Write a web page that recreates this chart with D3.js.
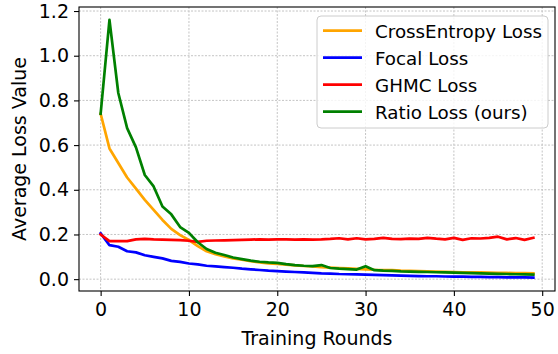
<!DOCTYPE html>
<html>
<head>
<meta charset="utf-8">
<script src="https://cdn.jsdelivr.net/npm/d3@7"></script>
<style>
  body { margin: 0; background: #fff; }
  svg { display: block; font-family: "DejaVu Sans", sans-serif; }
</style>
</head>
<body>
<div id="chart"></div>
<script>
// loss curves, one value per training round (0..49)
var crossEntropy = [0.74, 0.585, 0.52, 0.455, 0.405, 0.355, 0.31, 0.265, 0.225, 0.197,
  0.175, 0.148, 0.125, 0.112, 0.102, 0.093, 0.087, 0.08, 0.075, 0.071,
  0.068, 0.065, 0.062, 0.059, 0.057, 0.054, 0.052, 0.05, 0.048, 0.046,
  0.044, 0.042, 0.041, 0.04, 0.038, 0.037, 0.036, 0.035, 0.034, 0.033,
  0.032, 0.031, 0.03, 0.03, 0.029, 0.028, 0.028, 0.027, 0.027, 0.026];
var focal = [0.205, 0.152, 0.145, 0.125, 0.12, 0.107, 0.1, 0.093, 0.082, 0.077,
  0.07, 0.066, 0.06, 0.057, 0.054, 0.051, 0.047, 0.044, 0.041, 0.038,
  0.036, 0.034, 0.032, 0.03, 0.028, 0.026, 0.025, 0.023, 0.022, 0.021,
  0.02, 0.019, 0.018, 0.017, 0.016, 0.015, 0.014, 0.013, 0.013, 0.012,
  0.011, 0.011, 0.01, 0.01, 0.009, 0.009, 0.008, 0.008, 0.008, 0.007];
var ghmc = [0.2, 0.17, 0.17, 0.17, 0.178, 0.18, 0.178, 0.177, 0.176, 0.175,
  0.172, 0.167, 0.172, 0.173, 0.174, 0.175, 0.176, 0.177, 0.178, 0.177,
  0.178, 0.178, 0.177, 0.178, 0.177, 0.178, 0.18, 0.183, 0.178, 0.183,
  0.178, 0.18, 0.185, 0.18, 0.179, 0.181, 0.18, 0.185, 0.181, 0.178,
  0.185, 0.176, 0.183, 0.182, 0.185, 0.19, 0.178, 0.184, 0.176, 0.185];
var ratio = [0.74, 1.16, 0.833, 0.676, 0.59, 0.466, 0.415, 0.325, 0.29, 0.233,
  0.207, 0.165, 0.135, 0.118, 0.108, 0.097, 0.09, 0.083, 0.078, 0.075,
  0.073, 0.067, 0.063, 0.06, 0.058, 0.063, 0.05, 0.047, 0.045, 0.043,
  0.058, 0.04, 0.038, 0.037, 0.035, 0.034, 0.033, 0.032, 0.031, 0.03,
  0.029, 0.028, 0.027, 0.026, 0.025, 0.024, 0.023, 0.022, 0.021, 0.02];

var seriesNames = ["CrossEntropy Loss", "Focal Loss", "GHMC Loss", "Ratio Loss (ours)"];
var seriesColors = ["#ffa500", "#0000ff", "#ff0000", "#008000"];
var xTicks = [0, 10, 20, 30, 40, 50];
var yTicks = [0.0, 0.2, 0.4, 0.6, 0.8, 1.0, 1.2];

var margin = {top: 7, right: 3, bottom: 63, left: 79};
var width = 558 - margin.left - margin.right;
var height = 354 - margin.top - margin.bottom;

var svg = d3.select("#chart").append("svg")
  .attr("width", 558).attr("height", 354)
  .append("g")
  .attr("transform", "translate(" + margin.left + "," + margin.top + ")");

var x = d3.scaleLinear().domain([-2.45, 51.45]).range([0, width]);
var y = d3.scaleLinear().domain([-0.053, 1.218]).range([height, 0]);

// grid
svg.append("g").selectAll("line").data(xTicks).enter().append("line")
  .attr("x1", d => x(d)).attr("x2", d => x(d))
  .attr("y1", 0).attr("y2", height)
  .style("stroke", "#c4c4c4").style("stroke-width", 1).style("stroke-dasharray", "2,1.5");
svg.append("g").selectAll("line").data(yTicks).enter().append("line")
  .attr("x1", 0).attr("x2", width)
  .attr("y1", d => y(d)).attr("y2", d => y(d))
  .style("stroke", "#c4c4c4").style("stroke-width", 1).style("stroke-dasharray", "2,1.5");

// lines
var all = [crossEntropy, focal, ghmc, ratio];
var line = d3.line().x((d, i) => x(i)).y(d => y(d));
all.forEach(function(s, k) {
  svg.append("path").datum(s)
    .attr("d", line)
    .style("fill", "none")
    .style("stroke", seriesColors[k])
    .style("stroke-width", 2.7)
    .style("stroke-linejoin", "round")
    .style("stroke-linecap", "square");
});

// axes
var xAxis = svg.append("g").attr("transform", "translate(0," + height + ")")
  .call(d3.axisBottom(x).tickValues(xTicks).tickSize(5).tickPadding(7).tickFormat(d3.format("d")));
var yAxis = svg.append("g")
  .call(d3.axisLeft(y).tickValues(yTicks).tickSize(5).tickPadding(5).tickFormat(d3.format(".1f")));
[xAxis, yAxis].forEach(function(a) {
  a.select(".domain").remove();
  a.selectAll("text").style("font-size", "19px").style("fill", "#000")
    .style("font-family", "'DejaVu Sans', sans-serif");
  a.selectAll("line").style("stroke", "#000").style("stroke-width", 1.1);
});

svg.append("rect")
  .attr("width", width).attr("height", height)
  .style("fill", "none").style("stroke", "#000").style("stroke-width", 1.1);

// axis labels
svg.append("text")
  .attr("x", width / 2).attr("y", height + 53.5)
  .attr("text-anchor", "middle")
  .style("font-size", "19px")
  .text("Training Rounds");
svg.append("text")
  .attr("transform", "rotate(-90)")
  .attr("x", -height / 2).attr("y", -53)
  .attr("text-anchor", "middle")
  .style("font-size", "19px")
  .text("Average Loss Value");

// legend
var legend = svg.append("g").attr("transform", "translate(" + (317 - margin.left) + "," + (16 - margin.top) + ")");
legend.append("rect")
  .attr("width", 231).attr("height", 112).attr("rx", 4)
  .style("fill", "#fff").style("fill-opacity", 0.8)
  .style("stroke", "#cccccc").style("stroke-width", 1);
seriesNames.forEach(function(name, k) {
  var cy = 14.7 + k * 27;
  legend.append("line")
    .attr("x1", 6).attr("x2", 45).attr("y1", cy).attr("y2", cy)
    .style("stroke", seriesColors[k]).style("stroke-width", 2.7);
  legend.append("text")
    .attr("x", 58).attr("y", cy).attr("dy", "0.4em")
    .style("font-size", "18.3px")
    .text(name);
});
</script>
</body>
</html>
